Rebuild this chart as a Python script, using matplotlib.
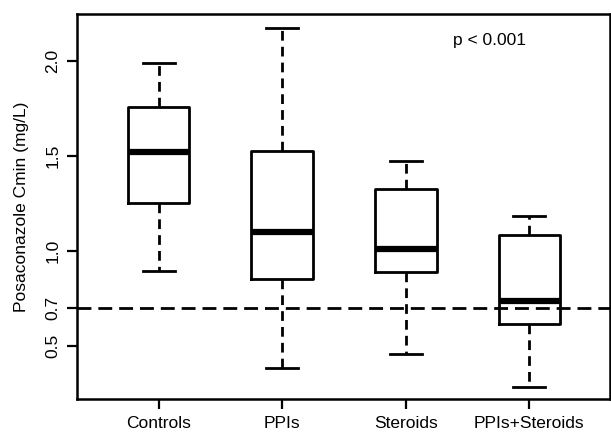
import matplotlib
matplotlib.use('Agg')
import matplotlib.pyplot as plt

# Group summaries (mg/L)
groups = ['Controls', 'PPIs', 'Steroids', 'PPIs+Steroids']
whisker_low = [0.895, 0.381, 0.456, 0.284]
q1 = [1.253, 0.853, 0.888, 0.614]
median = [1.518, 1.100, 1.009, 0.735]
q3 = [1.755, 1.525, 1.323, 1.084]
whisker_high = [1.990, 2.170, 1.472, 1.181]
threshold = 0.7
yticks = [0.5, 0.7, 1.0, 1.5, 2.0]

plt.rcParams['font.family'] = ['Liberation Sans', 'DejaVu Sans']

stats = []
for i, g in enumerate(groups):
    stats.append({'label': g, 'whislo': whisker_low[i], 'q1': q1[i], 'med': median[i],
                  'q3': q3[i], 'whishi': whisker_high[i], 'fliers': []})

fig = plt.figure(figsize=(6.11, 4.36), dpi=100)
ax = fig.add_axes([0.126, 0.085, 0.872, 0.883])

pos = list(range(1, len(groups) + 1))
ax.bxp(stats, positions=pos, widths=0.5, showfliers=False,
       boxprops=dict(color='black', linewidth=2.0),
       medianprops=dict(color='black', linewidth=4.5, solid_capstyle='butt'),
       whiskerprops=dict(color='black', linewidth=2.0, linestyle=(0, (3.5, 2.2))),
       capprops=dict(color='black', linewidth=2.0),
       capwidths=0.26)

ax.axhline(threshold, color='black', linewidth=2.0, linestyle=(0, (5, 2.5)), zorder=0)

ax.set_xlim(0.34, 4.65)
ax.set_ylim(0.22, 2.246)
ax.set_yticks(yticks)
ax.set_yticklabels([str(t) for t in yticks], rotation=90, va='center', fontsize=12.5)
ax.set_xticks(pos)
ax.set_xticklabels(groups, fontsize=12.5)
ax.tick_params(axis='both', direction='out', length=7, width=1.6, pad=5)
for s in ax.spines.values():
    s.set_linewidth(1.8)

ax.set_ylabel('Posaconazole Cmin (mg/L)', fontsize=12.5, labelpad=12)
ax.text(3.68, 2.105, 'p < 0.001', fontsize=12.5, ha='center', va='center')

fig.savefig('out.png', dpi=100)
